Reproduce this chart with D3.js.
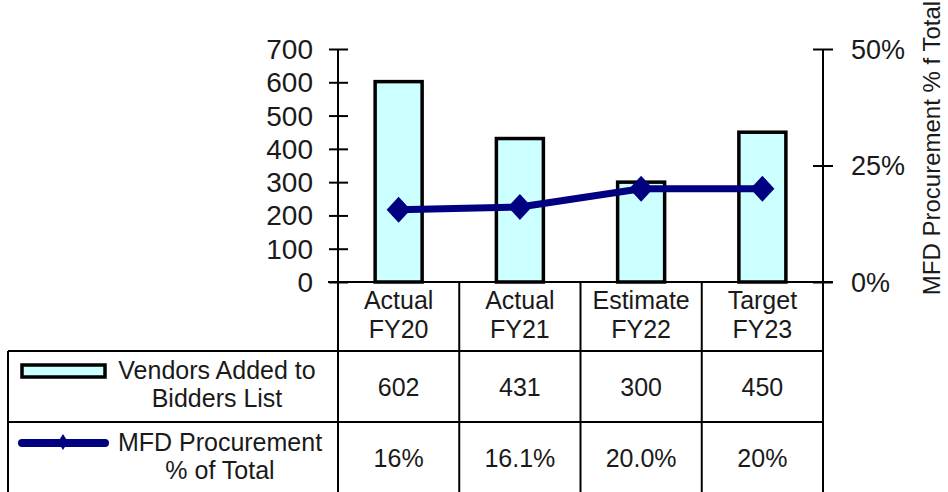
<!DOCTYPE html>
<html><head><meta charset="utf-8">
<script src="https://cdn.jsdelivr.net/npm/d3@7/dist/d3.min.js"></script>
<style>body{margin:0;background:#fff}svg{display:block;font-family:"Liberation Sans",Arial,sans-serif}</style>
</head><body><svg id="c" width="948" height="492"></svg>
<script>
const categories = ["Actual FY20","Actual FY21","Estimate FY22","Target FY23"];
const categoryLines = [["Actual","FY20"],["Actual","FY21"],["Estimate","FY22"],["Target","FY23"]];
const vendors = [602,431,300,450];
const vendorLabels = ["602","431","300","450"];
const mfdPct = [0.155,0.161,0.20,0.20];
const mfdLabels = ["16%","16.1%","20.0%","20%"];
const leftTicks = [0,100,200,300,400,500,600,700];
const rightTicks = [0,0.25,0.5];
const seriesNames = [["Vendors Added to","Bidders List"],["MFD Procurement","% of Total"]];
const rightTitle = "MFD Procurement % f Total";

const svg = d3.select("#c");
const textColor = "#1a1a1a";
const plotL = 338, plotR = 823, plotT = 49, plotB = 282;
const x = d3.scaleBand().domain(categories).range([plotL, plotR]);
const yL = d3.scaleLinear().domain([0,700]).range([plotB, plotT]);
const yR = d3.scaleLinear().domain([0,0.5]).range([plotB, plotT]);

// left axis
const gL = svg.append("g").attr("transform",`translate(${plotL},0)`)
  .call(d3.axisLeft(yL).tickValues(leftTicks).tickSize(9).tickPadding(16));
gL.select(".domain").remove();
gL.selectAll(".tick line").attr("x1",10).attr("x2",-9).attr("stroke","#000").attr("stroke-width",2);
gL.selectAll(".tick text").attr("font-size",28).attr("fill",textColor).attr("font-family","Liberation Sans, Arial").attr("dy","0.34em");
svg.append("line").attr("x1",plotL).attr("x2",plotL).attr("y1",plotT).attr("y2",plotB).attr("stroke","#000").attr("stroke-width",2);

// right axis
const gR = svg.append("g").attr("transform",`translate(${plotR},0)`)
  .call(d3.axisRight(yR).tickValues(rightTicks).tickFormat(d3.format(".0%")).tickSize(10).tickPadding(18));
gR.select(".domain").remove();
gR.selectAll(".tick line").attr("x1",-10).attr("x2",10).attr("stroke","#000").attr("stroke-width",2);
gR.selectAll(".tick text").attr("font-size",27).attr("fill",textColor).attr("font-family","Liberation Sans, Arial").attr("dy","0.34em");
svg.append("line").attr("x1",plotR).attr("x2",plotR).attr("y1",plotT).attr("y2",plotB).attr("stroke","#000").attr("stroke-width",2);

// bars
const barW = 47;
svg.append("g").selectAll("rect").data(vendors).join("rect")
  .attr("x",(d,i)=>x(categories[i]) + x.bandwidth()/2 - barW/2)
  .attr("y",d=>yL(d))
  .attr("width",barW)
  .attr("height",d=>plotB - yL(d))
  .attr("fill","#ccffff").attr("stroke","#000").attr("stroke-width",3.5);

// bottom axis line
svg.append("line").attr("x1",plotL-10).attr("x2",plotR+10).attr("y1",plotB).attr("y2",plotB).attr("stroke","#000").attr("stroke-width",2);

// line series
const line = d3.line().x((d,i)=>x(categories[i]) + x.bandwidth()/2).y(d=>yR(d));
svg.append("path").datum(mfdPct).attr("d",line).attr("fill","none").attr("stroke","#000080").attr("stroke-width",7).attr("stroke-linejoin","round");
const diamond = (cx,cy,hw,hh)=>`M${cx},${cy-hh}L${cx+hw},${cy}L${cx},${cy+hh}L${cx-hw},${cy}Z`;
svg.append("g").selectAll("path").data(mfdPct).join("path")
  .attr("d",(d,i)=>diamond(x(categories[i]) + x.bandwidth()/2, yR(d), 12, 13))
  .attr("fill","#000080");

// data table
const tL = 8, hdrB = 351, r1B = 422, tB = 492;
const tbl = svg.append("g").attr("stroke","#000").attr("stroke-width",2);
const bounds = categories.map(c=>x(c)).concat([plotR]);
bounds.forEach(bx=>tbl.append("line").attr("x1",bx).attr("x2",bx).attr("y1",plotB).attr("y2",tB));
tbl.append("line").attr("x1",tL).attr("x2",tL).attr("y1",hdrB).attr("y2",tB);
[hdrB, r1B].forEach(yy=>tbl.append("line").attr("x1",tL).attr("x2",plotR).attr("y1",yy).attr("y2",yy));

const txt = (xx,yy,s,size=25,anchor="middle")=>svg.append("text").attr("x",xx).attr("y",yy)
  .attr("text-anchor",anchor).attr("dy","0.35em").attr("font-size",size).attr("fill",textColor).text(s);

categories.forEach((c,i)=>{
  const cx = x(c) + x.bandwidth()/2;
  txt(cx, 300, categoryLines[i][0]);
  txt(cx, 329, categoryLines[i][1]);
  txt(cx, 387, vendorLabels[i]);
  txt(cx, 458, mfdLabels[i]);
});

// legend keys
svg.append("rect").attr("x",22).attr("y",365).attr("width",83).attr("height",12)
  .attr("fill","#ccffff").attr("stroke","#000").attr("stroke-width",3.5);
svg.append("line").attr("x1",22).attr("x2",105).attr("y1",443).attr("y2",443).attr("stroke","#000080").attr("stroke-width",8).attr("stroke-linecap","round");
svg.append("path").attr("d",diamond(63,442,5,8)).attr("fill","#000080");
txt(217, 370, seriesNames[0][0]);
txt(217, 398, seriesNames[0][1]);
txt(220, 442, seriesNames[1][0]);
txt(220, 470, seriesNames[1][1]);

// right title
svg.append("text").attr("transform","translate(932,148) rotate(-90)")
  .attr("text-anchor","middle").attr("dy","0.35em").attr("font-size",24).attr("fill",textColor).text(rightTitle);
</script></body></html>
